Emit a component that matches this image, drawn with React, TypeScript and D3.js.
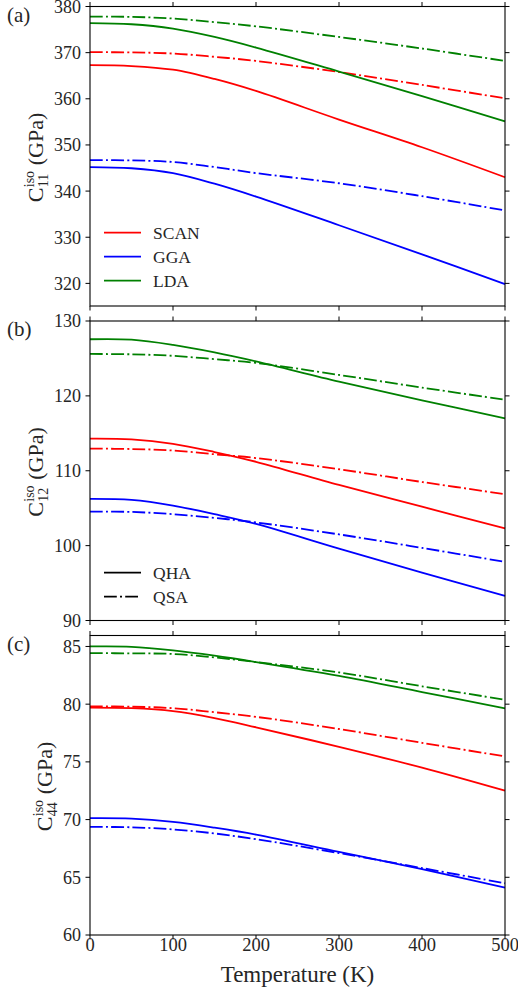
import React from "react";
import * as d3 from "d3";

// Temperatures (K) at which each curve is sampled
const temps = [0, 50, 100, 150, 200, 300, 400, 500];

// Panel (a): C11 (GPa)
const c11ScanQHA = [367.3, 367.1, 366.3, 364.3, 361.7, 355.5, 349.5, 343.0];
const c11ScanQSA = [370.1, 370.05, 369.8, 369.1, 368.2, 365.8, 363.0, 360.1];
const c11GgaQHA = [345.2, 344.95, 343.9, 341.6, 338.8, 332.6, 326.3, 319.85];
const c11GgaQSA = [346.7, 346.65, 346.3, 345.2, 343.9, 341.7, 338.9, 335.8];
const c11LdaQHA = [376.4, 376.15, 375.2, 373.4, 371.1, 365.9, 360.6, 355.1];
const c11LdaQSA = [377.8, 377.75, 377.4, 376.6, 375.7, 373.4, 370.9, 368.2];

// Panel (b): C12 (GPa)
const c12ScanQHA = [114.3, 114.2, 113.6, 112.5, 111.2, 108.1, 105.2, 102.3];
const c12ScanQSA = [112.96, 112.9, 112.7, 112.2, 111.7, 110.2, 108.5, 106.87];
const c12GgaQHA = [106.24, 106.1, 105.35, 104.2, 102.9, 99.6, 96.4, 93.3];
const c12GgaQSA = [104.55, 104.5, 104.2, 103.7, 103.1, 101.5, 99.7, 97.83];
const c12LdaQHA = [127.56, 127.5, 126.8, 125.8, 124.6, 121.9, 119.4, 117.0];
const c12LdaQSA = [125.6, 125.55, 125.35, 124.9, 124.4, 122.8, 121.1, 119.5];

// Panel (c): C44 (GPa)
const c44ScanQHA = [79.7, 79.65, 79.4, 78.8, 78.0, 76.3, 74.5, 72.5];
const c44ScanQSA = [79.8, 79.78, 79.65, 79.3, 78.9, 77.85, 76.65, 75.47];
const c44GgaQHA = [70.12, 70.08, 69.8, 69.3, 68.7, 67.2, 65.7, 64.1];
const c44GgaQSA = [69.37, 69.33, 69.15, 68.8, 68.3, 67.1, 65.8, 64.48];
const c44LdaQHA = [85.0, 84.97, 84.66, 84.2, 83.65, 82.45, 81.05, 79.63];
const c44LdaQSA = [84.43, 84.4, 84.35, 84.05, 83.65, 82.75, 81.55, 80.38];

const xTicks = [0, 100, 200, 300, 400, 500];
const c11Ticks = [320, 330, 340, 350, 360, 370, 380];
const c12Ticks = [90, 100, 110, 120, 130];
const c44Ticks = [60, 65, 70, 75, 80, 85];

const methodNames = ["SCAN", "GGA", "LDA"];
const approxNames = ["QHA", "QSA"];

const COLORS: Record<string, string> = { SCAN: "#ff0000", GGA: "#0000ff", LDA: "#008000" };
const DASHDOT = "12.8,3.2,2,3.2";
const FONT = "Liberation Serif";
const TEXT_COLOR = "#262626";

const W = 518;
const H = 995;
const X0 = 90;
const X1 = 505;
const PANEL_H = 299.5;

type Series = { method: string; approx: string; values: number[] };

type PanelDef = {
  tag: string;
  top: number;
  domain: [number, number];
  ticks: number[];
  sub: string;
  labelX: number;
  series: Series[];
  legend: "methods" | "approx" | null;
  showXLabels: boolean;
};

const panels: PanelDef[] = [
  {
    tag: "(a)",
    top: 6.5,
    domain: [315.1, 380],
    ticks: c11Ticks,
    sub: "11",
    labelX: 43,
    legend: "methods",
    showXLabels: false,
    series: [
      { method: "SCAN", approx: "QHA", values: c11ScanQHA },
      { method: "SCAN", approx: "QSA", values: c11ScanQSA },
      { method: "GGA", approx: "QHA", values: c11GgaQHA },
      { method: "GGA", approx: "QSA", values: c11GgaQSA },
      { method: "LDA", approx: "QHA", values: c11LdaQHA },
      { method: "LDA", approx: "QSA", values: c11LdaQSA },
    ],
  },
  {
    tag: "(b)",
    top: 321,
    domain: [90, 130],
    ticks: c12Ticks,
    sub: "12",
    labelX: 43,
    legend: "approx",
    showXLabels: false,
    series: [
      { method: "SCAN", approx: "QHA", values: c12ScanQHA },
      { method: "SCAN", approx: "QSA", values: c12ScanQSA },
      { method: "GGA", approx: "QHA", values: c12GgaQHA },
      { method: "GGA", approx: "QSA", values: c12GgaQSA },
      { method: "LDA", approx: "QHA", values: c12LdaQHA },
      { method: "LDA", approx: "QSA", values: c12LdaQSA },
    ],
  },
  {
    tag: "(c)",
    top: 635.5,
    domain: [60, 85.95],
    ticks: c44Ticks,
    sub: "44",
    labelX: 52,
    legend: null,
    showXLabels: true,
    series: [
      { method: "SCAN", approx: "QHA", values: c44ScanQHA },
      { method: "SCAN", approx: "QSA", values: c44ScanQSA },
      { method: "GGA", approx: "QHA", values: c44GgaQHA },
      { method: "GGA", approx: "QSA", values: c44GgaQSA },
      { method: "LDA", approx: "QHA", values: c44LdaQHA },
      { method: "LDA", approx: "QSA", values: c44LdaQSA },
    ],
  },
];

const x = d3.scaleLinear().domain([0, 500]).range([X0, X1]);

function Panel({ p }: { p: PanelDef }) {
  const bottom = p.top + PANEL_H;
  const y = d3.scaleLinear().domain(p.domain).range([bottom, p.top]);
  const line = d3
    .line<number>()
    .x((_, i) => x(temps[i]))
    .y((v) => y(v))
    .curve(d3.curveCatmullRom.alpha(0.5));
  const midY = (p.top + bottom) / 2;
  const tickLen = 4.5;

  return (
    <g>
      {p.series.map((s, i) => (
        <path
          key={i}
          d={line(s.values) || ""}
          fill="none"
          stroke={COLORS[s.method]}
          strokeWidth={1.8}
          strokeDasharray={s.approx === "QSA" ? DASHDOT : undefined}
        />
      ))}

      {/* axes frame */}
      <rect x={X0} y={p.top} width={X1 - X0} height={PANEL_H} fill="none" stroke="#000" strokeWidth={1.1} />

      {/* x ticks top and bottom, pointing outward */}
      {xTicks.map((t) => (
        <g key={"xt" + t}>
          <line x1={x(t)} x2={x(t)} y1={bottom} y2={bottom + tickLen} stroke="#000" strokeWidth={1} />
          <line x1={x(t)} x2={x(t)} y1={p.top} y2={p.top - tickLen} stroke="#000" strokeWidth={1} />
          {p.showXLabels && (
            <text x={x(t)} y={bottom + 15.5} textAnchor="middle" fontSize={18.5} fontFamily={FONT} fill={TEXT_COLOR}>
              {t}
            </text>
          )}
        </g>
      ))}

      {/* y ticks left and right */}
      {p.ticks.map((t) => (
        <g key={"yt" + t}>
          <line x1={X0} x2={X0 - tickLen} y1={y(t)} y2={y(t)} stroke="#000" strokeWidth={1} />
          <line x1={X1} x2={X1 + tickLen} y1={y(t)} y2={y(t)} stroke="#000" strokeWidth={1} />
          <text x={81} y={y(t)} dy="0.36em" textAnchor="end" fontSize={18} fontFamily={FONT} fill={TEXT_COLOR}>
            {t}
          </text>
        </g>
      ))}

      {/* panel tag */}
      <text x={7} y={p.top + 15} fontSize={21} fontFamily={FONT} fill={TEXT_COLOR}>
        {p.tag}
      </text>

      {/* y axis label with stacked super/subscripts */}
      <g transform={`translate(${p.labelX},${midY}) rotate(-90)`} fontFamily={FONT} fill={TEXT_COLOR}>
        <text x={-46} y={0} fontSize={22}>C</text>
        <text x={-31} y={-9} fontSize={14}>iso</text>
        <text x={-31} y={5} fontSize={14}>{p.sub}</text>
        <text x={-9} y={0} fontSize={22}>(GPa)</text>
      </g>

      {p.legend === "methods" &&
        methodNames.map((m, i) => {
          const ly = 232.7 + i * 24;
          return (
            <g key={m}>
              <line x1={104} x2={141} y1={ly} y2={ly} stroke={COLORS[m]} strokeWidth={1.8} />
              <text x={153} y={ly} dy="0.34em" fontSize={17.5} fontFamily={FONT} fill={TEXT_COLOR}>
                {m}
              </text>
            </g>
          );
        })}

      {p.legend === "approx" &&
        approxNames.map((a, i) => {
          const ly = p.top + 251.7 + i * 24;
          return (
            <g key={a}>
              <line
                x1={104}
                x2={141}
                y1={ly}
                y2={ly}
                stroke="#000"
                strokeWidth={1.8}
                strokeDasharray={a === "QSA" ? DASHDOT : undefined}
              />
              <text x={153} y={ly} dy="0.34em" fontSize={17.5} fontFamily={FONT} fill={TEXT_COLOR}>
                {a}
              </text>
            </g>
          );
        })}
    </g>
  );
}

export default function App() {
  return (
    <svg
      width={W}
      height={H}
      viewBox={`0 0 ${W} ${H}`}
      style={{ position: "absolute", left: 0, top: 0, background: "#fff" }}
    >
      <rect width={W} height={H} fill="#fff" />
      {panels.map((p) => (
        <Panel key={p.tag} p={p} />
      ))}
      <text x={(X0 + X1) / 2} y={982} textAnchor="middle" fontSize={23} fontFamily={FONT} fill={TEXT_COLOR}>
        Temperature (K)
      </text>
    </svg>
  );
}
